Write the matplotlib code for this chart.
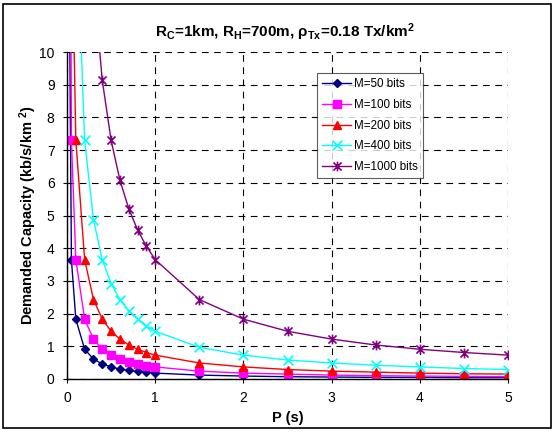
import matplotlib
matplotlib.use("Agg")
import matplotlib.pyplot as plt
from matplotlib.path import Path
from matplotlib.patches import Rectangle

plt.rcParams['font.family'] = ['Liberation Sans', 'DejaVu Sans']
plt.rcParams['mathtext.default'] = 'regular'

P = [0.01, 0.05, 0.1, 0.2, 0.3, 0.4, 0.5, 0.6, 0.7, 0.8, 0.9, 1.0,
     1.5, 2.0, 2.5, 3.0, 3.5, 4.0, 4.5, 5.0]
m50 = [18.25, 3.65, 1.83, 0.91, 0.61, 0.46, 0.37, 0.30, 0.26, 0.23, 0.20, 0.18,
       0.12, 0.09, 0.07, 0.06, 0.05, 0.05, 0.04, 0.04]
m100 = [36.5, 7.3, 3.65, 1.83, 1.22, 0.91, 0.73, 0.61, 0.52, 0.46, 0.41, 0.37,
        0.24, 0.18, 0.15, 0.12, 0.10, 0.09, 0.08, 0.07]
m200 = [73.0, 14.6, 7.3, 3.65, 2.43, 1.83, 1.46, 1.22, 1.04, 0.91, 0.81, 0.73,
        0.49, 0.37, 0.29, 0.24, 0.21, 0.18, 0.16, 0.15]
m400 = [146.0, 29.2, 14.6, 7.3, 4.87, 3.65, 2.92, 2.43, 2.09, 1.83, 1.62, 1.46,
        0.97, 0.73, 0.58, 0.49, 0.42, 0.37, 0.32, 0.29]
m1000 = [365.0, 73.0, 36.5, 18.25, 12.17, 9.13, 7.3, 6.08, 5.21, 4.56, 4.06, 3.65,
         2.43, 1.83, 1.46, 1.22, 1.04, 0.91, 0.81, 0.73]
labels = ["M=50 bits", "M=100 bits", "M=200 bits", "M=400 bits", "M=1000 bits"]
xticks = [0, 1, 2, 3, 4, 5]
yticks = list(range(0, 11))

star = Path([(-1, -1), (1, 1), (-1, 1), (1, -1), (0, -1.2), (0, 1.2)],
            [Path.MOVETO, Path.LINETO, Path.MOVETO, Path.LINETO, Path.MOVETO, Path.LINETO])
xmark = Path([(-1, -1), (1, 1), (-1, 1), (1, -1)],
             [Path.MOVETO, Path.LINETO, Path.MOVETO, Path.LINETO])

styles = [
    dict(color='#000080', marker='D', ms=4.5),
    dict(color='#FF00FF', marker='s', ms=5.5),
    dict(color='#FF0000', marker='^', ms=6),
    dict(color='#00FFFF', marker=xmark, ms=7, mew=1.2),
    dict(color='#800080', marker=star, ms=7, mew=1.2),
]

fig = plt.figure(figsize=(5.58, 4.32), dpi=100)
fig.patches.append(Rectangle((3/558, 4/432), 548/558, 424/432, transform=fig.transFigure,
                             fill=False, edgecolor='black', linewidth=1.2))
ax = fig.add_axes([67/558, 53/432, 441/558, 327/432])

for data, lab, st in zip([m50, m100, m200, m400, m1000], labels, styles):
    ax.plot(P, data, label=lab, lw=1.0, **st)

ax.set_xlim(0, 5)
ax.set_ylim(0, 10)
ax.set_xticks(xticks)
ax.set_yticks(yticks)
ax.grid(True, color='black', linestyle=(0, (6, 5)), linewidth=0.8)
for s in ['top', 'right']:
    ax.spines[s].set_visible(False)
for s in ['left', 'bottom']:
    ax.spines[s].set_linewidth(1.0)
ax.tick_params(direction='inout', length=6, labelsize=10, pad=6)

ax.set_xlabel('P (s)', fontsize=10.5, fontweight='bold', labelpad=4)
ax.set_ylabel('Demanded Capacity (kb/s/km $^{2}$)', fontsize=10.5, fontweight='bold', labelpad=0)
fig.text(285/558, 1 - 32/432, r'R$_{C}$=1km, R$_{H}$=700m, ρ$_{Tx}$=0.18 Tx/km$^{2}$',
         ha='center', va='center', fontsize=11, fontweight='bold')

leg = ax.legend(loc='upper left', bbox_to_anchor=(0.567, 0.936), frameon=True, fancybox=False,
                edgecolor='#333333', fontsize=8.4, handlelength=2.5, labelspacing=0.75,
                borderpad=0.45, handletextpad=0.2, borderaxespad=0)
leg.get_frame().set_linewidth(0.8)

fig.savefig('out.png', dpi=100)
